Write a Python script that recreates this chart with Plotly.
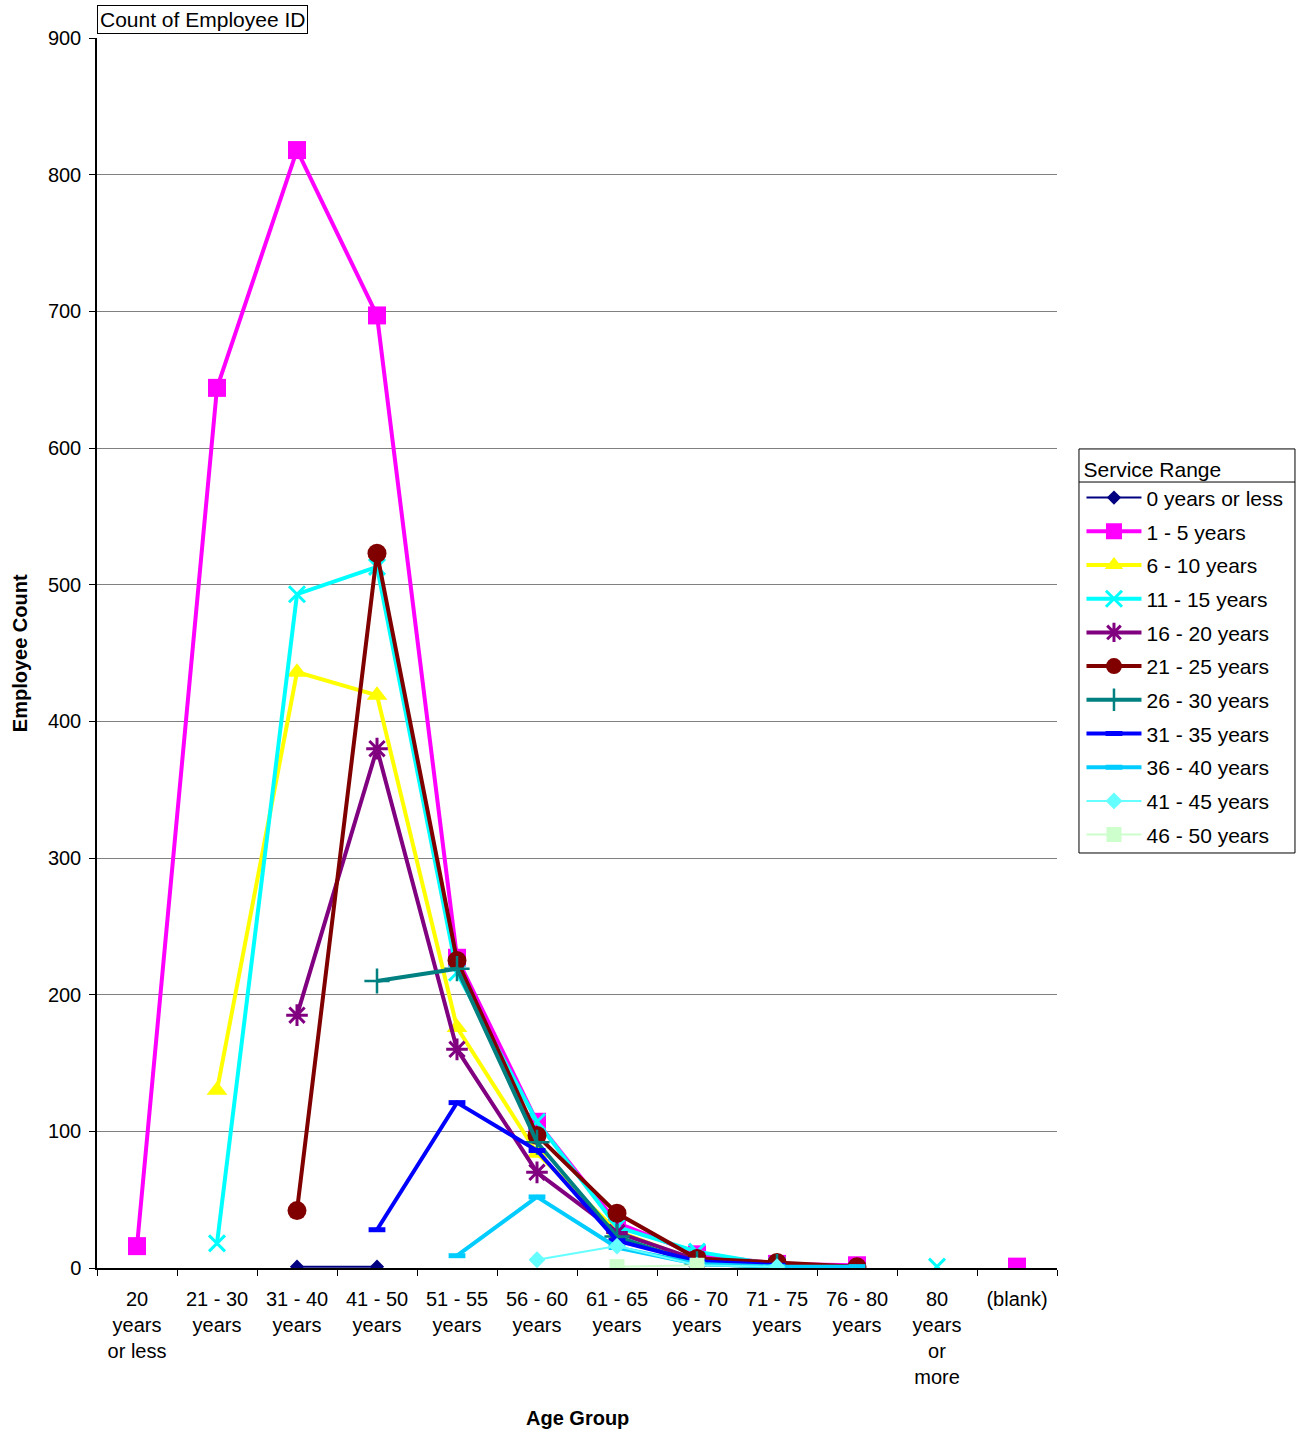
import plotly.graph_objects as go

# Age-group categories (tick labels, with line breaks as shown on the axis)
age_groups = [
    "20<br>years<br>or less", "21 - 30<br>years", "31 - 40<br>years", "41 - 50<br>years",
    "51 - 55<br>years", "56 - 60<br>years", "61 - 65<br>years", "66 - 70<br>years",
    "71 - 75<br>years", "76 - 80<br>years", "80<br>years<br>or<br>more", "(blank)",
]

# Employee counts per service range (None = no employees in that age group)
svc_0_or_less = [None, None, 1, 1, None, None, None, None, None, None, None, None]
svc_1_5 = [16, 644, 818, 697, 227, 107, 33, 10, 3, 2, None, 1]
svc_6_10 = [None, 130, 436, 419, 176, 84, 27, 5, 1, None, None, None]
svc_11_15 = [None, 18, 493, 513, 216, 107, 30, 12, 2, None, 1, None]
svc_16_20 = [None, None, 185, 380, 160, 70, 26, 6, 1, None, None, None]
svc_21_25 = [None, None, 42, 523, 225, 97, 40, 7, 4, 1, None, None]
svc_26_30 = [None, None, None, 210, 219, 92, 23, 3, 1, None, None, None]
svc_31_35 = [None, None, None, 28, 121, 86, 20, 5, 2, None, None, None]
svc_36_40 = [None, None, None, None, 9, 52, 15, 3, 1, 1, None, None]
svc_41_45 = [None, None, None, None, None, 6, 16, 2, 1, None, None, None]
svc_46_50 = [None, None, None, None, None, None, 1, 2, None, None, None, None]

series_names = [
    "0 years or less", "1 - 5 years", "6 - 10 years", "11 - 15 years",
    "16 - 20 years", "21 - 25 years", "26 - 30 years", "31 - 35 years",
    "36 - 40 years", "41 - 45 years", "46 - 50 years",
]
series_values = [
    svc_0_or_less, svc_1_5, svc_6_10, svc_11_15, svc_16_20, svc_21_25,
    svc_26_30, svc_31_35, svc_36_40, svc_41_45, svc_46_50,
]

# (line colour, line width, marker symbol, marker size, marker outline width)
styles = [
    ("#000080", 2, "diamond", 11, 0),
    ("#FF00FF", 4, "square", 18, 0),
    ("#FFFF00", 4, "triangle-up", 18, 0),
    ("#00FFFF", 4, "x-thin-open", 16, 3),
    ("#800080", 4, "asterisk-open", 18, 3),
    ("#800000", 4, "circle", 19, 0),
    ("#008080", 4, "cross-thin-open", 18, 2.5),
    ("#0000FF", 4, "line-ew-open", 12, 5),
    ("#00CCFF", 4, "line-ew-open", 12, 5),
    ("#66FFFF", 2, "diamond", 13, 0),
    ("#CCFFCC", 2, "square", 15, 0),
]

FONT = "Liberation Sans, Arial, sans-serif"

fig = go.Figure()
for name, vals, (col, lw, sym, msz, mlw) in zip(series_names, series_values, styles):
    marker = dict(symbol=sym, size=msz, color=col)
    if mlw:
        marker["line"] = dict(color=col, width=mlw)
    fig.add_trace(go.Scatter(
        x=age_groups, y=vals, name=name, legendgroup=name,
        mode="lines+markers", connectgaps=False,
        line=dict(color=col, width=lw), marker=marker,
    ))

# legend frame edges in paper units
BOX_X0, BOX_X1 = 1.0229, 1.2479
BOX_Y0, BOX_Y1 = 0.3374, 0.6659
RULE_Y = 0.6390

fig.update_layout(
    width=1297, height=1433,
    margin=dict(l=97, r=240, t=38, b=165, autoexpand=False),
    paper_bgcolor="white", plot_bgcolor="white",
    font=dict(family=FONT, size=20, color="black"),
    showlegend=True,
    legend=dict(
        title=dict(text="Service Range", font=dict(size=21)),
        font=dict(size=21),
        x=1.0255, xanchor="left", y=BOX_Y1 - 0.001, yanchor="top",
        borderwidth=0, bgcolor="rgba(0,0,0,0)",
        tracegroupgap=3.4, traceorder="grouped", itemwidth=55,
    ),
    xaxis=dict(
        type="category", range=[-0.5, 11.5], tickson="boundaries",
        ticks="outside", ticklen=6, ticklabelstandoff=12,
        tickcolor="black", showline=True, linecolor="black", linewidth=1.5,
        showgrid=False, tickfont=dict(size=20), tickangle=0,
    ),
    yaxis=dict(
        range=[0, 900], dtick=100, ticks="outside", ticklen=6, tickcolor="black",
        ticklabelstandoff=4,
        showline=True, linecolor="black", linewidth=1.5,
        showgrid=True, gridcolor="#808080", gridwidth=1, zeroline=False,
        tickfont=dict(size=20),
    ),
    annotations=[
        dict(text="Count of Employee ID", xref="paper", yref="paper",
             x=0, y=1.0268, xanchor="left", yanchor="top", showarrow=False,
             font=dict(size=21), bordercolor="black", borderwidth=1, borderpad=2,
             bgcolor="white"),
        dict(text="<b>Employee Count</b>", xref="paper", yref="paper",
             x=-0.080, y=0.5, xanchor="center", yanchor="middle", textangle=-90,
             showarrow=False, font=dict(size=20)),
        dict(text="<b>Age Group</b>", xref="paper", yref="paper",
             x=0.5, y=-0.122, xanchor="center", yanchor="middle",
             showarrow=False, font=dict(size=20)),
    ],
    shapes=[
        dict(type="rect", xref="paper", yref="paper",
             x0=BOX_X0, x1=BOX_X1, y0=BOX_Y0, y1=BOX_Y1,
             line=dict(color="black", width=1), fillcolor="rgba(0,0,0,0)"),
        # rule under the legend title
        dict(type="line", xref="paper", yref="paper",
             x0=BOX_X0, x1=BOX_X1, y0=RULE_Y, y1=RULE_Y,
             line=dict(color="black", width=1)),
    ],
)

fig.write_html("out.html")
